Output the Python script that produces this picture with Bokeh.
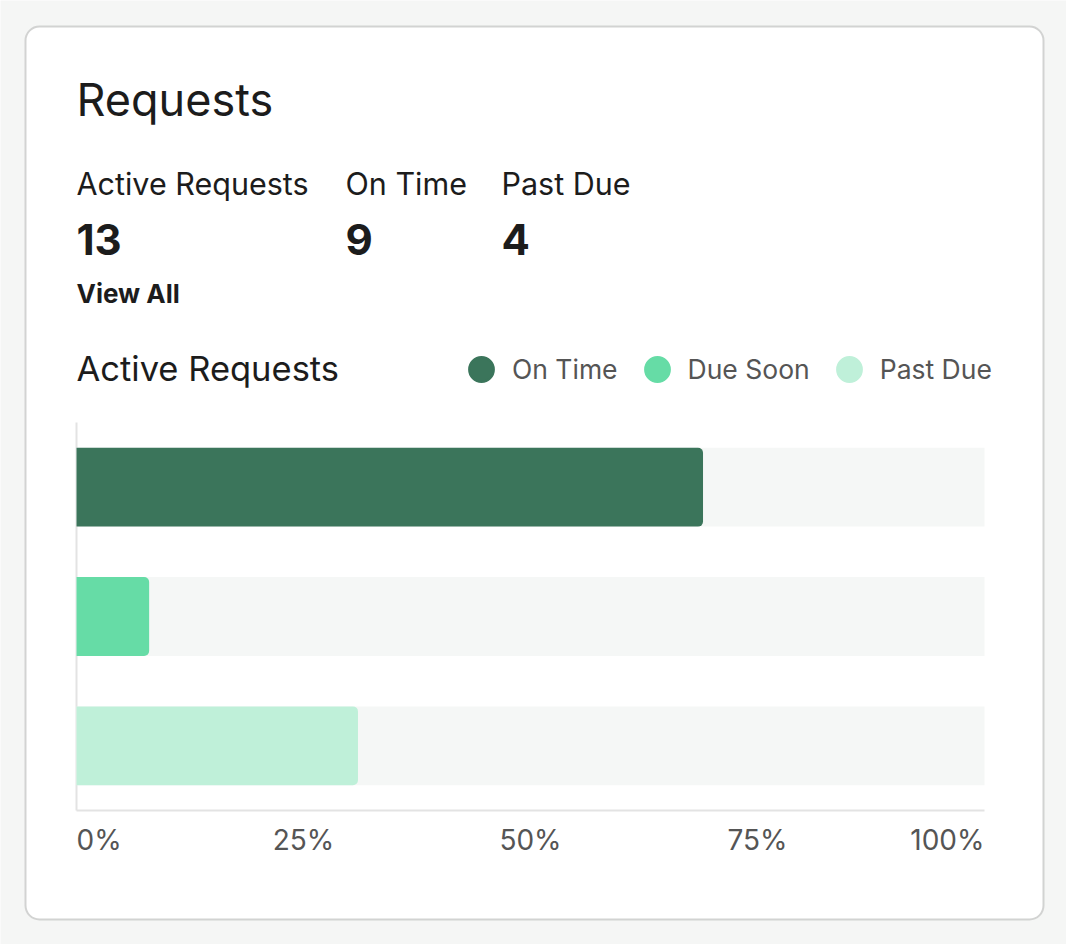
from bokeh.plotting import figure
from bokeh.models import (Range1d, ColumnDataSource, Label, LabelSet,
                          BoxAnnotation, Legend, LegendItem)
from bokeh.core.properties import value
from bokeh.embed import file_html
from bokeh.resources import INLINE

# ---------------- data ----------------
categories = ["On Time", "Due Soon", "Past Due"]
percent = [69, 8, 31]
bar_colors = ["#3b755b", "#66dca6", "#bff0d9"]

stat_labels = ["Active Requests", "On Time", "Past Due"]
stat_values = ["13", "9", "4"]

tick_values = [0, 25, 50, 75, 100]
tick_labels = ["0%", "25%", "50%", "75%", "100%"]

title_text = "Requests"
link_text = "View All"
chart_title = "Active Requests"

# ---------------- layout / style ----------------
W, H = 1066, 944
FL, FR, FT, FB = 76, 984, 422, 810          # chart area inside the canvas (px)
PAGE = "#f5f6f5"
TRACK = "#f5f7f6"
AXIS = "#e3e3e3"
FONT = "Inter"
DARK = "#1c1c1c"
GREY = "#555555"

n = len(categories)
t0, t1 = tick_values[0], tick_values[-1]
upx = (t1 - t0) / (FR - FL)                 # data units per pixel (x)
band = (FB - FT) / n                        # pixels per category band

p = figure(width=W, height=H, output_backend="svg", toolbar_location=None,
           x_range=Range1d(t0 - FL * upx, t0 + (W - FL) * upx),
           y_range=Range1d(-(H - FB) / band, n + FT / band),
           x_axis_location=None, y_axis_location=None,
           min_border=0, border_fill_color=PAGE, background_fill_color=PAGE,
           outline_line_color=None)
for g in p.grid:
    g.visible = False

# pixel helper ranges for the card decorations (top-left origin)
p.extra_x_ranges = {"px": Range1d(0, W)}
p.extra_y_ranges = {"px": Range1d(H, 0)}

card = BoxAnnotation(left=25, right=1043, top=26, bottom=919,
                     x_range_name="px", y_range_name="px",
                     fill_color="white", fill_alpha=1,
                     line_color="#d2d3d2", line_width=2, line_alpha=1,
                     border_radius=14, level="underlay")
p.add_layout(card)

# axis lines
p.segment(x0=[t0], y0=[0], x1=[t0], y1=[n], line_color=AXIS, line_width=2)
p.segment(x0=[t0], y0=[0], x1=[t1], y1=[0], line_color=AXIS, line_width=2)

# bars (first category on top)
ypos = [n - i - 0.5 for i in range(n)]
src = ColumnDataSource(dict(y=ypos, cat=categories, pct=percent, color=bar_colors,
                            full=[t1] * n))
p.hbar(y="y", left=t0, right="full", height=0.61, source=src,
       fill_color=TRACK, line_color=None)
p.hbar(y="y", left=t0, right="pct", height=0.61, source=src,
       fill_color="color", line_color=None, border_radius=(0, 5, 5, 0))

# legend (circle markers; renderers hold no visible point)
nan = float("nan")
items = []
for cat, col in zip(categories, bar_colors):
    r = p.scatter(x=[nan], y=[nan], marker="circle", fill_color=col,
                  line_color=col, line_width=2)
    items.append(LegendItem(label=cat, renderers=[r]))
legend = Legend(items=items, orientation="horizontal", location=(450, H - 400),
                glyph_width=62, glyph_height=62, label_standoff=0, spacing=8,
                padding=0, margin=0, border_line_color=None,
                background_fill_alpha=0,
                label_text_font=FONT, label_text_font_size="26.5px",
                label_text_color=GREY)
p.add_layout(legend, "center")

# tick labels
aligns = ["left"] + ["center"] * (len(tick_values) - 2) + ["right"]
tsrc = ColumnDataSource(dict(x=tick_values, text=tick_labels, align=aligns))
p.add_layout(LabelSet(x="x", y=849, text="text", source=tsrc, y_range_name="px",
                      text_align="align", text_baseline="alphabetic",
                      text_font=value(FONT), text_font_size=value("28px"),
                      text_color=GREY))

def lab(x, y, text, size, color=DARK, style="normal"):
    # Label places the alphabetic baseline ~0.37em low; compensate
    p.add_layout(Label(x=x, y=y - 0.37 * size, text=text,
                       x_range_name="px", y_range_name="px",
                       text_align="left", text_baseline="alphabetic",
                       text_font=FONT, text_font_size=f"{size}px",
                       text_color=color, text_font_style=style))

lab(76, 116, title_text, 45)
for sx, l, v in zip([76, 345, 501], stat_labels, stat_values):
    lab(sx, 194, l, 30.5)
    lab(sx, 255, v, 42, style="bold")
lab(76, 303, link_text, 26, style="bold")
lab(76, 381, chart_title, 34.5)

open("out.html", "w").write(file_html(p, INLINE))
